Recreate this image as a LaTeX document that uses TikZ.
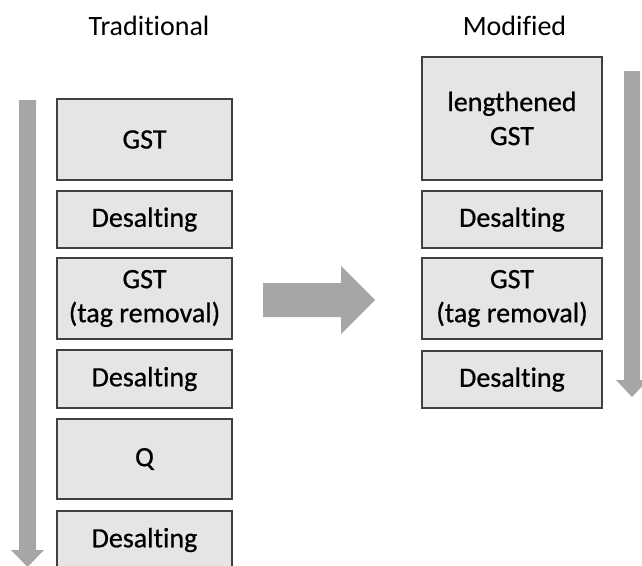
\documentclass[tikz,border=0pt]{standalone}
\usepackage{fontspec}
\setmainfont{Carlito}[Ligatures=NoCommon]
\newfontfamily\boxfont{Carlito}[Ligatures=NoCommon, FakeBold=0.7]
\begin{document}
\begin{tikzpicture}[x=1pt,y=-1pt,
  stepbox/.style={draw=black!75, line width=1.3pt, fill=black!10, inner sep=0pt,
    align=center, font=\boxfont\fontsize{28}{34}\selectfont, text=black},
  title/.style={inner sep=0pt, anchor=base, font=\fontsize{28}{34}\selectfont},
  blockarrow/.style={fill=black!35, draw=none}]
\useasboundingbox (0,0) rectangle (642,565);
\clip (0,0) rectangle (642,565);
% titles
\node[title] (t1) at (149,35) {Traditional};
\node[title] (t2) at (514.5,35) {Modified};
% left arrow
\fill[blockarrow] (19,100) -- (36,100) -- (36,550) -- (44,550) -- (27.5,567) -- (11,550) -- (19,550) -- cycle;
% right arrow
\fill[blockarrow] (624,71) -- (640,71) -- (640,380) -- (648,380) -- (632,397) -- (616,380) -- (624,380) -- cycle;
% middle arrow
\fill[blockarrow] (263,283) -- (341,283) -- (341,266) -- (375,300) -- (341,334) -- (341,317) -- (263,317) -- cycle;
% left column
\node[stepbox, minimum width=175pt, minimum height=81pt] (a1) at (144.5,139.5) {GST};
\node[stepbox, minimum width=175pt, minimum height=57pt] (a2) at (144.5,219.5) {Desalting};
\node[stepbox, minimum width=175pt, minimum height=81pt] (a3) at (144.5,298.5) {GST\\(tag removal)};
\node[stepbox, minimum width=175pt, minimum height=58pt] (a4) at (144.5,379) {Desalting};
\node[stepbox, minimum width=175pt, minimum height=80pt] (a5) at (144.5,459) {Q};
\node[stepbox, minimum width=175pt, minimum height=58pt] (a6) at (144.5,540) {Desalting};
% right column
\node[stepbox, minimum width=180pt, minimum height=123pt] (b1) at (512,118.5) {lengthened\\GST};
\node[stepbox, minimum width=180pt, minimum height=57pt] (b2) at (512,219.5) {Desalting};
\node[stepbox, minimum width=180pt, minimum height=81pt] (b3) at (512,298.5) {GST\\(tag removal)};
\node[stepbox, minimum width=180pt, minimum height=57pt] (b4) at (512,379.5) {Desalting};
\end{tikzpicture}
\end{document}
